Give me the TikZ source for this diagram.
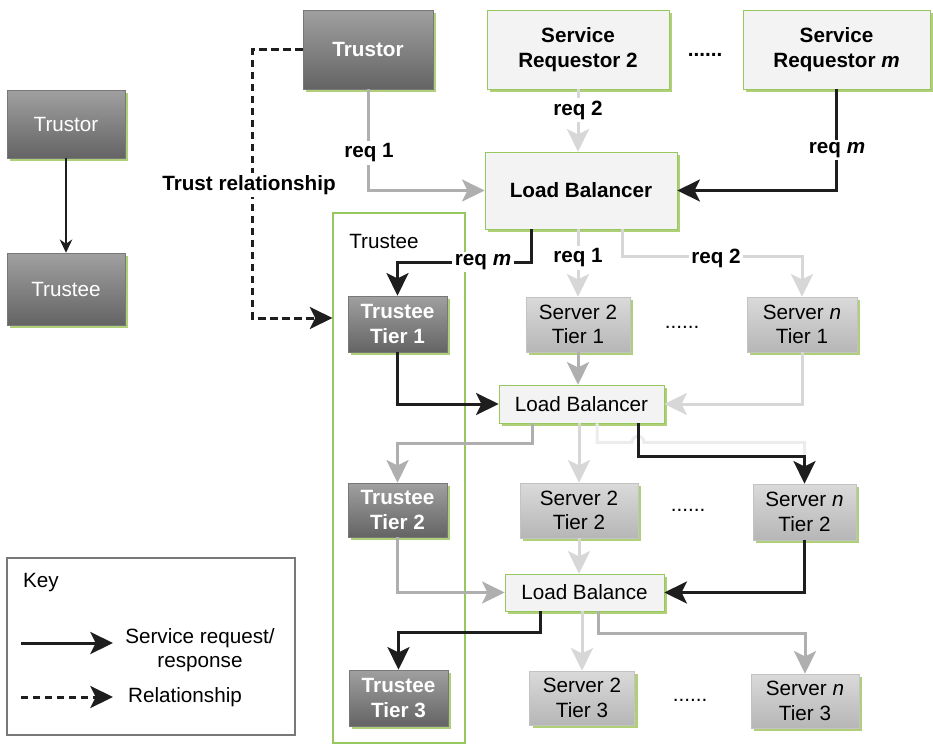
\documentclass[tikz,border=0pt]{standalone}
\usepackage{xcolor}
\usepackage{fontspec}
\setmainfont{Liberation Sans}
\usetikzlibrary{arrows.meta,calc,shadows}

\definecolor{boxgreen}{RGB}{150,200,95}
\definecolor{shadegreen}{RGB}{175,208,120}
\definecolor{linedark}{RGB}{30,30,30}
\definecolor{linemid}{RGB}{175,175,175}
\definecolor{linelight}{RGB}{215,215,215}
\definecolor{linefaint}{RGB}{236,236,236}

\begin{document}
\begin{tikzpicture}[x=0.75pt,y=0.75pt,yscale=-1,xscale=1,
  txt/.style={font=\fontsize{15.5}{18.5}\selectfont, align=center, inner sep=0.75pt},
  boldtxt/.style={font=\fontsize{15.5}{18.5}\selectfont\bfseries, align=center, inner sep=0.75pt},
  greenshadow/.style={drop shadow={shadow xshift=2.4pt,shadow yshift=-2.4pt,fill=shadegreen,opacity=1}},
  darkbox/.style={txt, text=white, draw={rgb,255:red,120;green,120;blue,120}, top color={rgb,255:red,160;green,160;blue,160}, bottom color={rgb,255:red,100;green,100;blue,100}, greenshadow},
  lightbox/.style={boldtxt, draw=boxgreen, fill={rgb,255:red,243;green,243;blue,243}, greenshadow},
  serverbox/.style={txt, draw={rgb,255:red,195;green,195;blue,195}, top color={rgb,255:red,218;green,218;blue,218}, bottom color={rgb,255:red,182;green,182;blue,182}, greenshadow},
  tip/.style={-{Stealth[length=17pt,width=16.5pt,inset=4pt]}},
  reqdark/.style={tip, draw=linedark, line width=2.25pt},
  reqmid/.style={tip, draw=linemid, line width=2.25pt},
  reqlight/.style={tip, draw=linelight, line width=2.25pt},
  relarr/.style={tip, draw=linedark, line width=2.25pt, dash pattern=on 5.5pt off 3.5pt},
  reqlbl/.style={boldtxt, fill=white, inner sep=2pt}
]
\useasboundingbox (0,0) rectangle (933,744);

%Shape: Rectangle [key boxes]
\node (keytrustor) at (66,124) [darkbox, minimum width=88.5pt, minimum height=51pt] {Trustor};
\node (keytrustee) at (66,289) [darkbox, minimum width=88.5pt, minimum height=54pt] {Trustee};
%Shape: Rectangle [requestors]
\node (trustor) at (368,49.5) [darkbox, font=\fontsize{15.5}{18.5}\selectfont\bfseries, minimum width=97.5pt, minimum height=59.25pt] {Trustor};
\node (sr2) at (578,49.5) [lightbox, minimum width=136.5pt, minimum height=59.25pt] {Service\\Requestor 2};
\node (srm) at (836.5,49.5) [lightbox, minimum width=140.25pt, minimum height=59.25pt] {Service\\Requestor \textit{m}};
\node (lbtop) at (581,190.5) [lightbox, minimum width=144pt, minimum height=57.75pt] {Load Balancer};
%Shape: Rectangle [trustee container]
\node (trusteebox) at (399,478) [draw=boxgreen, line width=0.8pt, minimum width=99pt, minimum height=397.5pt] {};
\node (trusteelbl) at (384,241) [txt] {Trustee};
%Shape: Rectangle [tier 1]
\node (tt1) at (397.5,324) [darkbox, font=\fontsize{15.5}{18.5}\selectfont\bfseries, minimum width=74.25pt, minimum height=42pt] {Trustee\\Tier 1};
\node (s2t1) at (578,324.5) [serverbox, minimum width=78pt, minimum height=41.25pt] {Server 2\\Tier 1};
\node (snt1) at (802,324.5) [serverbox, minimum width=82.5pt, minimum height=41.25pt] {Server \textit{n}\\Tier 1};
\node (lbmid) at (581.5,404) [lightbox, font=\fontsize{15.5}{18.5}\selectfont, minimum width=123.75pt, minimum height=28.5pt] {Load Balancer};
%Shape: Rectangle [tier 2]
\node (tt2) at (397.5,510) [darkbox, font=\fontsize{15.5}{18.5}\selectfont\bfseries, minimum width=74.25pt, minimum height=40.5pt] {Trustee\\Tier 2};
\node (s2t2) at (579,510.5) [serverbox, minimum width=88.5pt, minimum height=41.25pt] {Server 2\\Tier 2};
\node (snt2) at (804.5,512) [serverbox, minimum width=77.25pt, minimum height=42pt] {Server \textit{n}\\Tier 2};
\node (lbbot) at (584.5,592.5) [lightbox, font=\fontsize{15.5}{18.5}\selectfont, minimum width=119.25pt, minimum height=27.75pt] {Load Balance};
%Shape: Rectangle [tier 3]
\node (tt3) at (398.5,698) [darkbox, font=\fontsize{15.5}{18.5}\selectfont\bfseries, minimum width=74.25pt, minimum height=42pt] {Trustee\\Tier 3};
\node (s2t3) at (582,698) [serverbox, minimum width=78.75pt, minimum height=40.5pt] {Server 2\\Tier 3};
\node (snt3) at (805,701) [serverbox, minimum width=81pt, minimum height=40.5pt] {Server \textit{n}\\Tier 3};

% Text Node
\node (dots1) at (705,55) [boldtxt] {......};
\node (dots2) at (682,327) [txt] {......};
\node (dots3) at (688,510) [txt] {......};
\node (dots4) at (690,700) [txt] {......};

%Straight Lines [legend]
\draw [draw=linedark, line width=1.1pt, -{Stealth[length=10pt,width=9.5pt]}] (keytrustor) -- (keytrustee);
%Straight Lines [trust relationship]
\draw [relarr] (trustor.west) -- ++(-50,0) |- ($(trusteebox.west |- tt1.center)+(0,-6)$);
%Straight Lines [requests in]
\draw [reqmid] (trustor.south) |- (lbtop.west);
\draw [reqlight] (sr2.south) -- (sr2.south |- lbtop.north);
\draw [reqdark] (srm.south) |- (lbtop.east);
%Straight Lines [tier 1]
\draw [reqdark] ($(lbtop.south)+(-50,0)$) -- ++(0,33) -| (tt1.north);
\draw [reqlight] (s2t1.north |- lbtop.south) -- (s2t1.north);
\draw [reqlight] ($(lbtop.south)+(41,0)$) -- ++(0,27) -| (snt1.north);
\draw [reqdark] (tt1.south) |- (lbmid.west);
\draw [reqmid] (s2t1.south) -- (s2t1.south |- lbmid.north);
\draw [reqlight] (snt1.south) |- (lbmid.east);
%Straight Lines [tier 2]
\draw [reqmid] ($(lbmid.south)+(-49.5,0)$) -- ++(0,20) -| (tt2.north);
\draw [reqlight] (s2t2.north |- lbmid.south) -- (s2t2.north);
\draw [draw=linefaint, line width=2.25pt] ($(lbmid.south)+(15.5,0)$) -- ++(0,19) -- ++(35,0) arc[start angle=180,end angle=360,radius=6] -| ($(snt2.north)+(0,-27)$);
\draw [reqdark] ($(lbmid.south)+(56.5,0)$) -- ++(0,33) -| (snt2.north);
\draw [reqmid] (tt2.south) |- (lbbot.west);
\draw [reqlight] (s2t2.south) -- (s2t2.south |- lbbot.north);
\draw [reqdark] (snt2.south) |- (lbbot.east);
%Straight Lines [tier 3]
\draw [reqdark] ($(lbbot.south)+(-44.5,0)$) -- ++(0,21) -| (tt3.north);
\draw [reqlight] (s2t3.north |- lbbot.south) -- (s2t3.north);
\draw [reqmid] ($(lbbot.south)+(13.5,0)$) -- ++(0,22) -| (snt3.north);

% Text Node [labels]
\node (trustlbl) at (249,185) [reqlbl] {Trust relationship};
\node (req1a) at (369,153) [reqlbl] {req 1};
\node (req2a) at (578,110) [reqlbl] {req 2};
\node (reqma) at (837,150) [reqlbl] {req \textit{m}};
\node (reqmb) at (483,262) [reqlbl] {req \textit{m}};
\node (req1b) at (578,258) [reqlbl] {req 1};
\node (req2b) at (716,258) [reqlbl] {req 2};

%Shape: Rectangle [key]
\node (keybox) at (151,646.5) [draw={rgb,255:red,120;green,120;blue,120}, line width=0.8pt, minimum width=216pt, minimum height=132.75pt] {};
\node (keylbl) at (41,583) [txt] {Key};
\coordinate (srvfrom) at (21,643);
\coordinate (srvto) at (113,643);
\coordinate (relfrom) at (21,697);
\coordinate (relto) at (113,697);
\draw [reqdark] (srvfrom) -- (srvto);
\draw [relarr] (relfrom) -- (relto);
\node (srvlbl) at (200,650) [txt] {Service request/\\response};
\node (rellbl) at (185,697) [txt] {Relationship};

\end{tikzpicture}
\end{document}
